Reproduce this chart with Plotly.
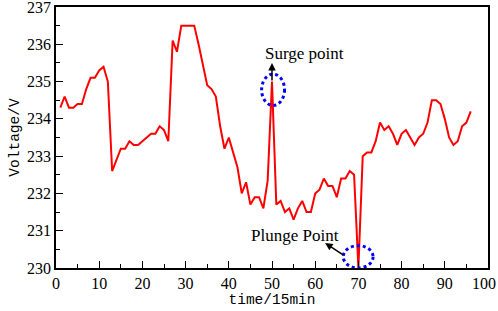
import plotly.graph_objects as go

time_idx = list(range(1, 97))
voltage = [
    234.3, 234.6, 234.3, 234.3, 234.4, 234.4, 234.8, 235.1, 235.1, 235.3,
    235.4, 235.0, 232.6, 232.9, 233.2, 233.2, 233.4, 233.3, 233.3, 233.4,
    233.5, 233.6, 233.6, 233.8, 233.7, 233.4, 236.1, 235.8, 236.5, 236.5,
    236.5, 236.5, 236.0, 235.45, 234.9, 234.8, 234.6, 233.8, 233.2, 233.5,
    233.1, 232.7, 232.0, 232.3, 231.7, 231.9, 231.9, 231.6, 232.35, 235.0,
    231.7, 231.8, 231.5, 231.6, 231.3, 231.6, 231.8, 231.5, 231.5, 232.0,
    232.1, 232.4, 232.2, 232.2, 231.9, 232.4, 232.4, 232.6, 232.5, 230.0,
    233.0, 233.1, 233.1, 233.4, 233.9, 233.7, 233.8, 233.6, 233.3, 233.6,
    233.7, 233.5, 233.3, 233.5, 233.6, 233.9, 234.5, 234.5, 234.4, 234.0,
    233.5, 233.3, 233.4, 233.8, 233.9, 234.2,
]

x_ticks = [0, 10, 20, 30, 40, 50, 60, 70, 80, 90, 100]
x_tick_labels = ["0", "10", "20", "30", "40", "50", "60", "70", "80", "90", "100"]
y_ticks = [230, 231, 232, 233, 234, 235, 236, 237]

serif = "Liberation Serif"
mono = "Liberation Mono"

fig = go.Figure()
fig.add_trace(go.Scatter(
    x=time_idx, y=voltage, mode="lines",
    line=dict(color="#ff0000", width=2),
    showlegend=False, cliponaxis=False,
))

# dotted circles
fig.add_shape(type="circle", xref="x", yref="y",
              x0=47.6, x1=52.9, y0=234.36, y1=235.2,
              line=dict(color="#0000ff", width=3, dash="dot"))
fig.add_shape(type="circle", xref="x", yref="y",
              x0=66.5, x1=73.4, y0=230.0, y1=230.6,
              line=dict(color="#0000ff", width=3, dash="dot"))

# arrows
fig.add_annotation(x=50, y=235.5, ax=50, ay=234.99, xref="x", yref="y",
                   axref="x", ayref="y", text="", showarrow=True,
                   arrowhead=2, arrowsize=1, arrowwidth=1.5, arrowcolor="black")
fig.add_annotation(x=62.3, y=230.67, ax=66.9, ay=230.32, xref="x", yref="y",
                   axref="x", ayref="y", text="", showarrow=True,
                   arrowhead=2, arrowsize=1, arrowwidth=1.5, arrowcolor="black")

# labels
fig.add_annotation(x=57.6, y=235.74, xref="x", yref="y", text="Surge point",
                   showarrow=False, font=dict(family=serif, size=17, color="black"))
fig.add_annotation(x=55.3, y=230.86, xref="x", yref="y", text="Plunge Point",
                   showarrow=False, font=dict(family=serif, size=17, color="black"))

# last x tick label placed so it stays inside the picture (as in the reference)
fig.add_annotation(x=x_ticks[-1], y=0, xref="x", yref="paper", text=x_tick_labels[-1],
                   showarrow=False, xanchor="right", yanchor="middle",
                   xshift=10, yshift=-15,
                   font=dict(family=serif, size=16, color="black"))
shown_labels = x_tick_labels[:-1] + [""]

fig.update_layout(
    width=498, height=311,
    margin=dict(l=56, r=10, t=7, b=43),
    paper_bgcolor="white", plot_bgcolor="white",
    font=dict(family=serif, size=16, color="black"),
    xaxis=dict(
        range=[0, 100], tickvals=x_ticks, ticktext=shown_labels,
        ticks="inside", ticklen=7,
        tickwidth=1.2, tickcolor="black", ticklabeloverflow="allow",
        automargin=False,
        minor=dict(dtick=5, tick0=0, ticks="inside", ticklen=4, tickcolor="black"),
        showline=True, linecolor="black", linewidth=1.5, mirror=True,
        showgrid=False, zeroline=False,
        title=dict(text="time/15min", font=dict(family=mono, size=14.5), standoff=2),
        tickfont=dict(family=serif, size=16),
    ),
    yaxis=dict(
        range=[230, 237], tickvals=y_ticks, ticks="inside", ticklen=7,
        tickwidth=1.2, tickcolor="black", ticklabeloverflow="allow",
        automargin=False,
        minor=dict(dtick=0.5, tick0=230, ticks="inside", ticklen=4, tickcolor="black"),
        showline=True, linecolor="black", linewidth=1.5, mirror=True,
        showgrid=False, zeroline=False,
        title=dict(text="Voltage/V", font=dict(family=mono, size=14.5), standoff=4),
        tickfont=dict(family=serif, size=16),
    ),
)

fig.write_html("out.html", config={"displayModeBar": False},
               post_script="document.body.style.margin='0px';")
